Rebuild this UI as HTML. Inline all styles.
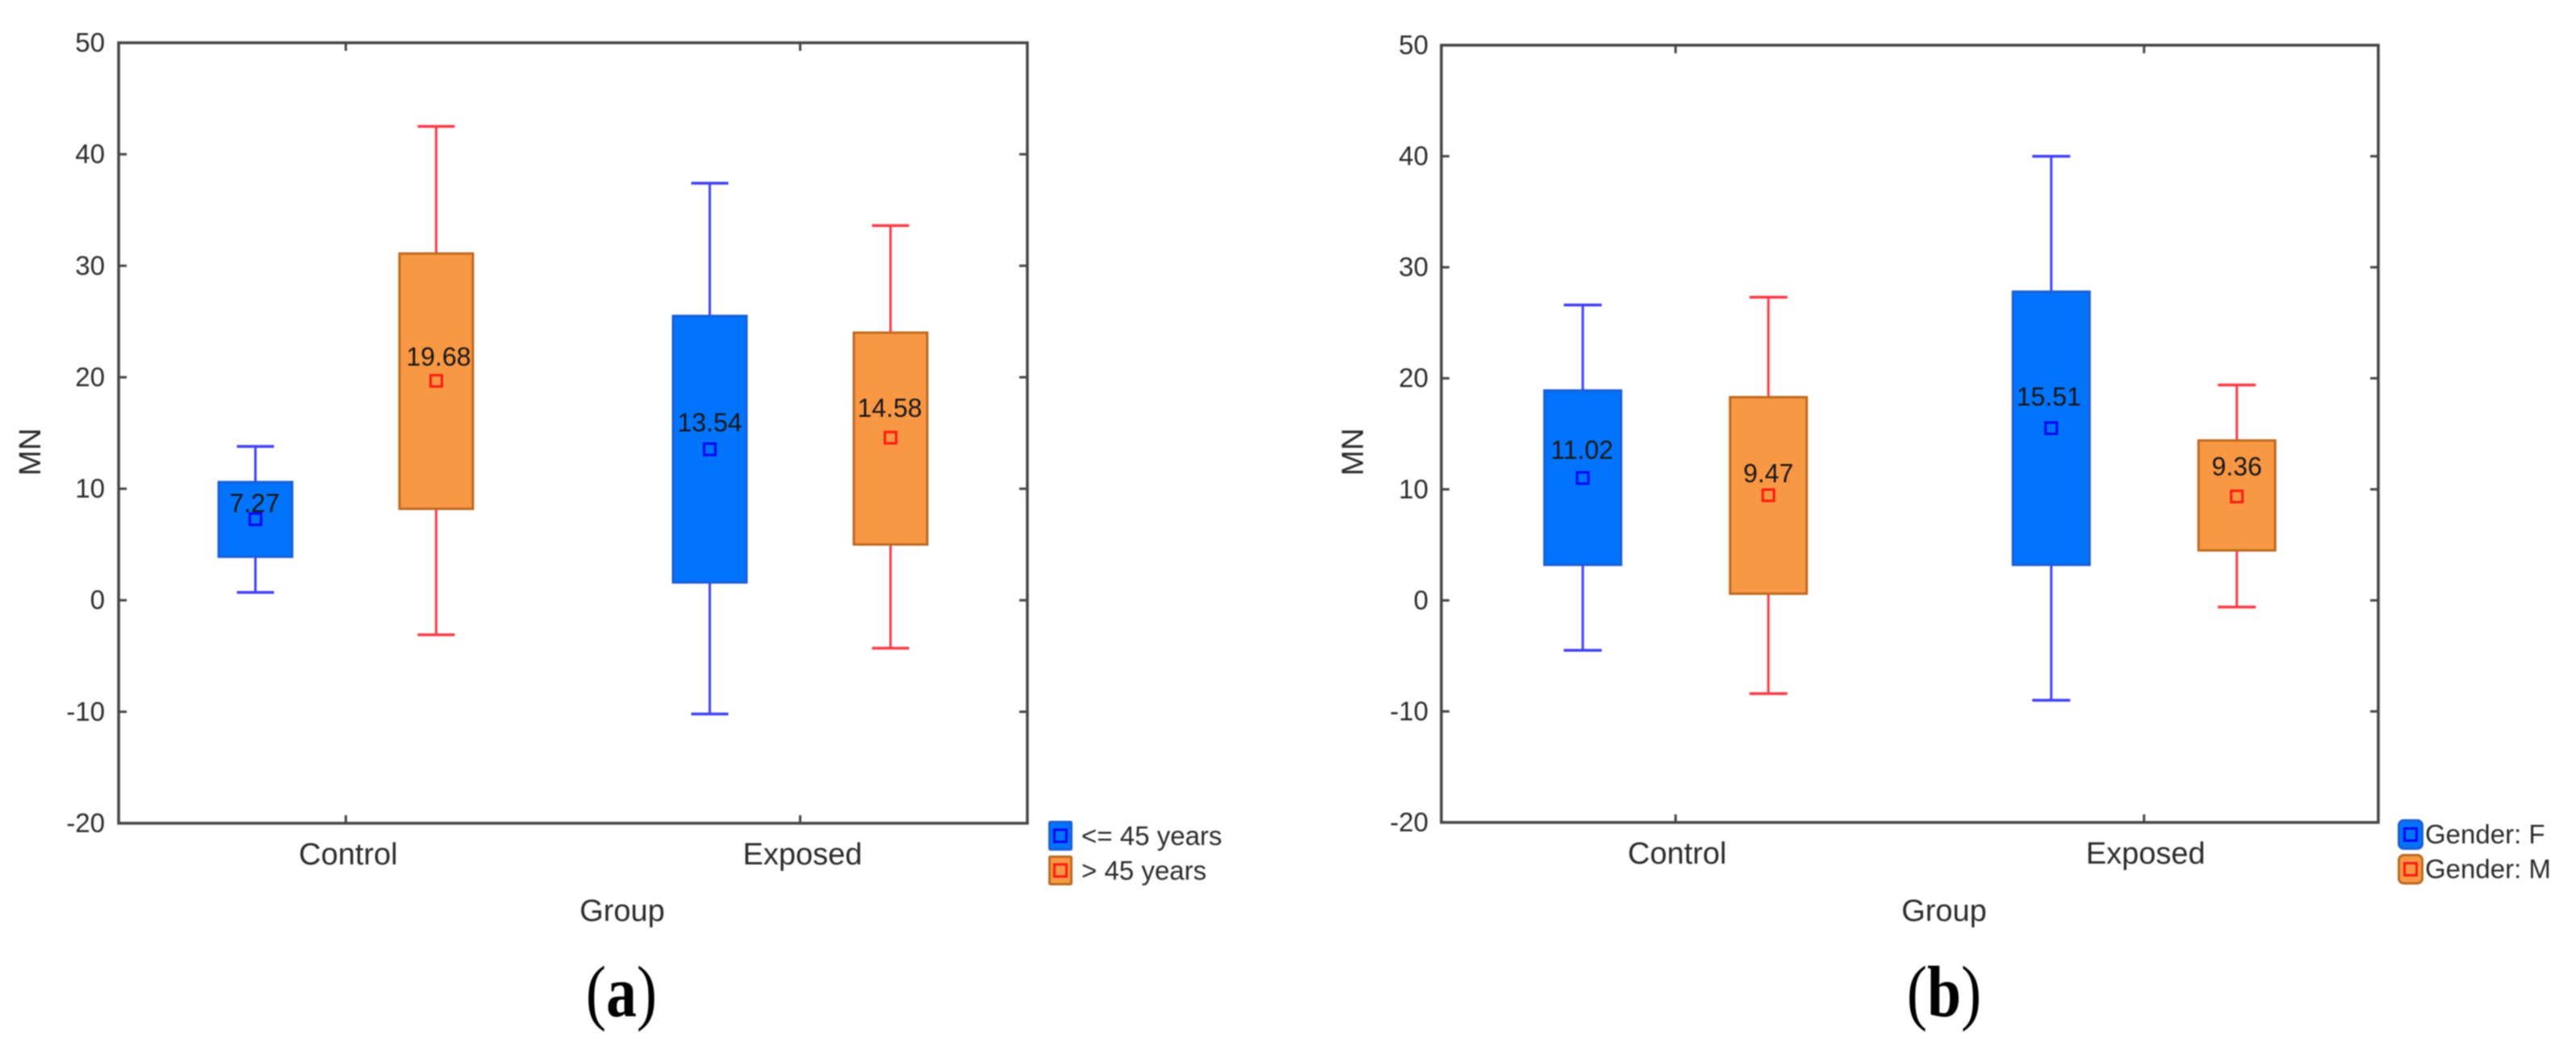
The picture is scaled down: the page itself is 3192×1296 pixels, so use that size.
<!DOCTYPE html>
<html lang="en">
<head>
<meta charset="utf-8">
<title>MN by Group, age and gender</title>
<style>
html,body{margin:0;padding:0;background:#fff;width:3192px;height:1296px;overflow:hidden}
svg{display:block;position:absolute;left:0;top:0;filter:blur(0.7px)}
text{font-family:"Liberation Sans",sans-serif;fill:#2b2b2b}
.cap{font-family:"Liberation Serif",serif;fill:#000;font-size:90px}
</style>
</head>
<body>
<svg id="fig" width="3192" height="1296" viewBox="0 0 3192 1296" xmlns="http://www.w3.org/2000/svg">
  <text class="cap" transform="translate(770,1259) scale(0.84,1)" text-anchor="middle">(<tspan font-weight="bold">a</tspan>)</text>
  <text class="cap" transform="translate(2409,1259) scale(0.84,1)" text-anchor="middle">(<tspan font-weight="bold">b</tspan>)</text>
</svg>
<script>
// Shared axis data
const yTicks = [50, 40, 30, 20, 10, 0, -10, -20];
const categories = ['Control', 'Exposed'];
const xTitle = 'Group';
const yTitle = 'MN';

// Panel (a): age groups. Order: Control/<=45, Control/>45, Exposed/<=45, Exposed/>45
const ageLegend = ['<= 45 years', '> 45 years'];
const ageWhiskerHigh = [13.8, 42.5, 37.4, 33.6];
const ageBoxTop = [10.6, 31.1, 25.5, 24.0];
const ageMean = [7.27, 19.68, 13.54, 14.58];
const ageBoxBottom = [3.9, 8.2, 1.6, 5.0];
const ageWhiskerLow = [0.7, -3.1, -10.2, -4.3];

// Panel (b): gender. Order: Control/F, Control/M, Exposed/F, Exposed/M
const genderLegend = ['Gender: F', 'Gender: M'];
const genderWhiskerHigh = [26.6, 27.3, 40.0, 19.4];
const genderBoxTop = [18.9, 18.3, 27.8, 14.4];
const genderMean = [11.02, 9.47, 15.51, 9.36];
const genderBoxBottom = [3.2, 0.6, 3.2, 4.5];
const genderWhiskerLow = [-4.5, -8.4, -9.0, -0.6];

const svg = document.getElementById('fig');
const NS = 'http://www.w3.org/2000/svg';
function mk(parent, tag, attrs, txt) {
  const n = document.createElementNS(NS, tag);
  for (const k in attrs) n.setAttribute(k, attrs[k]);
  if (txt !== undefined) n.textContent = txt;
  parent.appendChild(n);
  return n;
}
const AXIS = '#454545';
const COL = [
  {fill:'#0274fb', edge:'#1a5ed8', line:'#4040fa', mark:'#0505f5'},
  {fill:'#f99844', edge:'#bd6a22', line:'#fb3c48', mark:'#fb1a10'}
];

function drawPanel(p) {
  const root = mk(svg, 'g', {});
  
  
  const yMin = yTicks[yTicks.length - 1], yMax = yTicks[0];
  const y = v => p.bottom - (v - yMin) * (p.bottom - p.top) / (yMax - yMin);
  const catX = i => p.left + (p.right - p.left) * (i + 0.5) / categories.length;
  const groupX = i => catX(Math.floor(i / 2)) + (i % 2 === 0 ? -p.offset : p.offset);

  const frame = mk(root, 'rect', {x:p.left, y:p.top, width:p.right-p.left, height:p.bottom-p.top, fill:'#fff', stroke:AXIS, 'stroke-width':3.5});
  
  

  yTicks.forEach(t => {
    if (t !== yMax && t !== yMin) {
      const l = mk(root, 'line', {x1:p.left, x2:p.left+10, y1:y(t), y2:y(t), stroke:AXIS, 'stroke-width':3});
      
      
      const r = mk(root, 'line', {x1:p.right-10, x2:p.right, y1:y(t), y2:y(t), stroke:AXIS, 'stroke-width':3});
      
      
    }
    const lab = mk(root, 'text', {x:p.tickRight, y:y(t)+11, 'text-anchor':'end', 'font-size':33}, String(t));
    
    
  });

  categories.forEach((c, i) => {
    const a = mk(root, 'line', {x1:catX(i), x2:catX(i), y1:p.bottom-10, y2:p.bottom, stroke:AXIS, 'stroke-width':3});
    
    
    const b = mk(root, 'line', {x1:catX(i), x2:catX(i), y1:p.top, y2:p.top+10, stroke:AXIS, 'stroke-width':3});
    
    
    const lab = mk(root, 'text', {x:catX(i)+p.catShift, y:p.bottom+51, 'text-anchor':'middle', 'font-size':38}, c);
    
    
  });

  const xt = mk(root, 'text', {x:p.xTitleX, y:1141, 'text-anchor':'middle', 'font-size':38}, xTitle);
  
  
  const yt = mk(root, 'text', {transform:'translate(' + p.yTitleX + ',560) rotate(-90)', 'text-anchor':'middle', 'font-size':38}, yTitle);
  
  

  p.mean.forEach((m, i) => {
    const c = COL[i % 2], x = groupX(i);
    const g = mk(root, 'g', {});
    
    

    const w = mk(g, 'line', {x1:x, x2:x, y1:y(p.hi[i]), y2:y(p.lo[i]), stroke:c.line, 'stroke-width':3});
    
    
    const capHi = mk(g, 'line', {x1:x-p.capHalf, x2:x+p.capHalf, y1:y(p.hi[i]), y2:y(p.hi[i]), stroke:c.line, 'stroke-width':3.5});
    
    
    const capLo = mk(g, 'line', {x1:x-p.capHalf, x2:x+p.capHalf, y1:y(p.lo[i]), y2:y(p.lo[i]), stroke:c.line, 'stroke-width':3.5});
    
    

    const box = mk(g, 'rect', {x:x-p.boxHalf, y:y(p.q3[i]), width:p.boxHalf*2, height:y(p.q1[i])-y(p.q3[i]), fill:c.fill, stroke:c.edge, 'stroke-width':3});
    
    

    const mark = mk(g, 'rect', {x:x-7, y:y(m)-7, width:14, height:14, fill:c.fill, stroke:c.mark, 'stroke-width':3});
    
    

    const val = mk(g, 'text', {x:x+p.labelDx[i], y:y(m)-p.labelGap[i], 'text-anchor':'middle', 'font-size':32, style:'fill:#161616'}, m.toFixed(2));
    
    
  });

  p.legend.forEach((name, i) => {
    const c = COL[i], sy = p.legendY + i * p.legendStep;
    const item = mk(root, 'g', {});
    
    
    const sw = mk(item, 'rect', {x:p.legendX+1.5, y:sy+1.5, width:p.swW-3, height:p.swH-3, rx:p.swR, fill:c.fill, stroke:c.edge, 'stroke-width':3});
    
    
    const mk2 = mk(item, 'rect', {x:p.legendX+p.swW/2-7.5, y:sy+p.swH/2-7.5, width:15, height:15, fill:c.fill, stroke:c.mark, 'stroke-width':3});
    
    
    const t = mk(item, 'text', {x:p.legendTextX, y:sy+p.legendBase, 'font-size':33}, name);
    
    
  });
}

drawPanel({
  id:'a', left:147, right:1273, top:53, bottom:1020, offset:112, boxHalf:45.5, capHalf:23,
  tickRight:130, catShift:3, xTitleX:771, yTitleX:50, labelGap:[9, 19, 22, 26], labelDx:[-1, 3, 0, -1],
  hi:ageWhiskerHigh, q3:ageBoxTop, mean:ageMean, q1:ageBoxBottom, lo:ageWhiskerLow, legend:ageLegend,
  legendX:1299, legendY:1017, legendStep:43, swW:30, swH:37, swR:1, legendTextX:1340, legendBase:30
});
drawPanel({
  id:'b', left:1786, right:2947, top:56, bottom:1019, offset:115, boxHalf:47.5, capHalf:23.5,
  tickRight:1770, catShift:2, xTitleX:2409, yTitleX:1689, labelGap:[24, 16, 28, 26], labelDx:[-1, 0, -3, 0],
  hi:genderWhiskerHigh, q3:genderBoxTop, mean:genderMean, q1:genderBoxBottom, lo:genderWhiskerLow, legend:genderLegend,
  legendX:2971, legendY:1015, legendStep:43, swW:32, swH:38, swR:6, legendTextX:3005, legendBase:30
});
</script>
</body>
</html>
